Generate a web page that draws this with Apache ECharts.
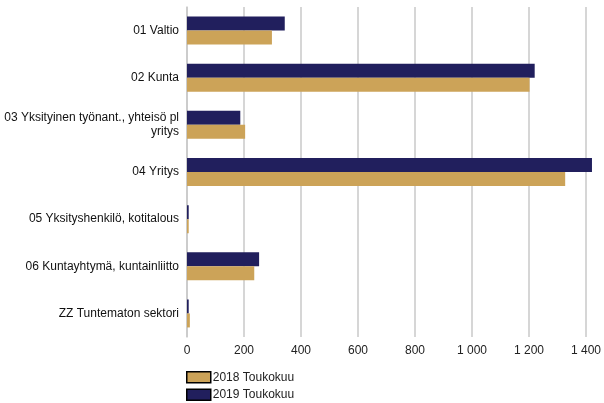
<!DOCTYPE html>
<html>
<head>
<meta charset="utf-8">
<script src="https://cdn.jsdelivr.net/npm/echarts@6/dist/echarts.min.js"></script>
<style>
  html, body { margin: 0; padding: 0; background: #fff; }
  #chart { width: 604px; height: 403px; }
</style>
</head>
<body>
<div id="chart"></div>
<script>
const sectors = [
  '01 Valtio',
  '02 Kunta',
  '03 Yksityinen työnant., yhteisö pl\nyritys',
  '04 Yritys',
  '05 Yksityshenkilö, kotitalous',
  '06 Kuntayhtymä, kuntainliitto',
  'ZZ Tuntematon sektori'
]
const may2018 = [298, 1202, 204, 1327, 6, 236, 10]
const may2019 = [343, 1220, 187, 1421, 6, 253, 6]

const fmt = v => String(v).replace(/\B(?=(\d{3})+(?!\d))/g, ' ')

const chart = echarts.init(document.getElementById('chart'))
chart.setOption({
  animation: false,
  textStyle: { fontFamily: 'Liberation Sans, Arial, sans-serif' },
  grid: { left: 187, right: 13, top: 7, bottom: 66, containLabel: false },
  legend: {
    data: ['2018 Toukokuu', '2019 Toukokuu'],
    orient: 'vertical',
    left: 186,
    top: 371,
    padding: 0,
    itemWidth: 24,
    itemHeight: 11,
    itemGap: 5,
    icon: 'rect',
    itemStyle: { borderColor: '#000', borderWidth: 1.5 },
    textStyle: { fontSize: 12, color: '#222', padding: [0, 0, 0, -3] }
  },
  xAxis: {
    type: 'value',
    min: 0,
    max: 1400,
    interval: 200,
    axisLine: { show: false },
    axisTick: { show: false },
    splitLine: { lineStyle: { color: '#c8c8c8', width: 1.5 } },
    axisLabel: { fontSize: 12, color: '#222', margin: 8, formatter: fmt }
  },
  yAxis: {
    type: 'category',
    inverse: true,
    data: sectors,
    axisLine: { lineStyle: { color: '#c8c8c8', width: 1.5 } },
    axisTick: { show: false },
    axisLabel: { fontSize: 12, color: '#111', margin: 8, align: 'right', lineHeight: 14 }
  },
  series: [
    {
      name: '2019 Toukokuu',
      type: 'bar',
      data: may2019,
      barWidth: 14,
      barGap: '0%',
      clip: false,
      itemStyle: { color: '#211f5d' }
    },
    {
      name: '2018 Toukokuu',
      type: 'bar',
      data: may2018,
      barWidth: 14,
      barGap: '0%',
      clip: false,
      itemStyle: { color: '#cca358' }
    }
  ]
})
</script>
</body>
</html>
